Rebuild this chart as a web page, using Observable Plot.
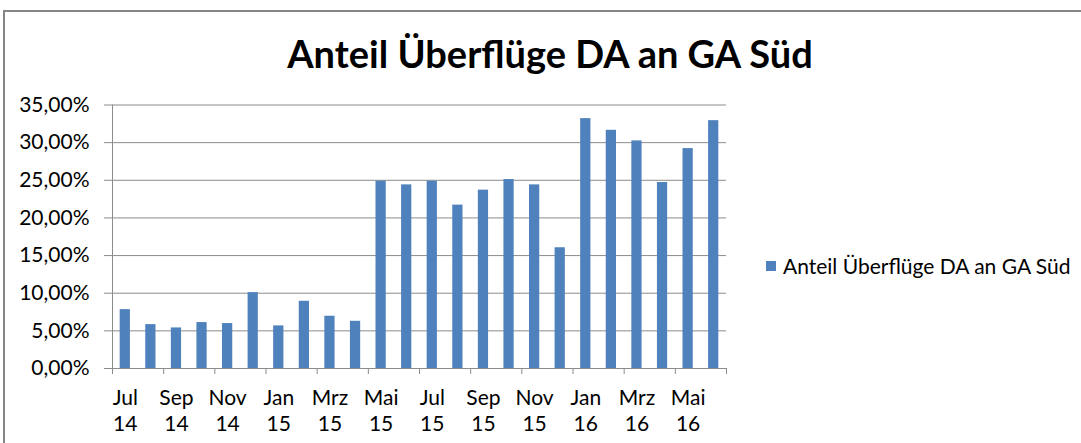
<!DOCTYPE html>
<html>
<head>
<meta charset="utf-8">
<script src="https://cdn.jsdelivr.net/npm/d3@7"></script>
<script src="https://cdn.jsdelivr.net/npm/@observablehq/plot@0.6"></script>
<style>
  body { margin: 0; background: #fff; font-family: Lato, "Open Sans", sans-serif; }
  #wrap { position: relative; width: 1081px; height: 443px; overflow: hidden; background: #fff; }
  #frame { position: absolute; left: 3px; top: 10px; width: 1200px; height: 500px; border-left: 2px solid #868686; border-top: 2px solid #868686; }
  #title { position: absolute; left: 0; width: 1100px; top: 28px; text-align: center; font-weight: bold; font-size: 38px; color: #000; line-height: 50px; }
  #chart { position: absolute; left: 0; top: 90px; }
  #legend { position: absolute; left: 766px; top: 253px; font-size: 21px; color: #000; display: flex; align-items: center; white-space: nowrap; }
  #legend .sw { width: 10px; height: 10px; background: #4F81BD; margin-right: 7px; }
</style>
</head>
<body>
<div id="wrap">
  <div id="frame"></div>
  <div id="title">Anteil Überflüge DA an GA Süd</div>
  <div id="chart"></div>
  <div id="legend"><div class="sw"></div><span>Anteil Überflüge DA an GA Süd</span></div>
</div>
<script>
const months = ["Jul 14","Aug 14","Sep 14","Okt 14","Nov 14","Dez 14","Jan 15","Feb 15","Mrz 15","Apr 15","Mai 15","Jun 15",
                "Jul 15","Aug 15","Sep 15","Okt 15","Nov 15","Dez 15","Jan 16","Feb 16","Mrz 16","Apr 16","Mai 16","Jun 16"];
const values = [7.82, 5.83, 5.39, 6.10, 5.97, 10.08, 5.66, 8.93, 6.94, 6.27, 24.88, 24.39,
                24.88, 21.70, 23.69, 25.10, 24.39, 16.04, 33.19, 31.64, 30.23, 24.70, 29.21, 32.92];
const yTicks = [0, 5, 10, 15, 20, 25, 30, 35];
const seriesName = "Anteil Überflüge DA an GA Süd";

const data = months.map((m, i) => ({i, month: m, value: values[i]}));
const labelData = data.filter(d => d.i % 2 === 0);
const boundaryTicks = d3.range(0, months.length + 1, 2);
const grid = "#8c8c8c";
const fontFamily = "Lato, 'Open Sans', sans-serif";

const chart = Plot.plot({
  width: 1081,
  height: 353,
  marginLeft: 112,
  marginRight: 355,
  marginTop: 14.5,
  marginBottom: 75,
  style: {fontFamily, fontSize: "21px", color: "#000", background: "transparent", overflow: "visible"},
  x: {type: "linear", domain: [0, months.length], axis: null},
  y: {domain: [0, 35], axis: null},
  marks: [
    Plot.gridY(yTicks, {stroke: grid, strokeOpacity: 1, strokeWidth: 1}),
    Plot.axisY(yTicks, {tickSize: 8, tickPadding: 15, stroke: grid, strokeOpacity: 1, label: null,
      tickFormat: d => d.toFixed(2).replace(".", ",") + "%", fill: "#000", fontSize: 21}),
    Plot.ruleX([0], {stroke: grid, strokeWidth: 1}),
    Plot.rectY(data, {x1: d => d.i + 0.3, x2: d => d.i + 0.7, y: "value", fill: "#4F81BD"}),
    Plot.axisX(boundaryTicks, {tickSize: 6, stroke: grid, strokeOpacity: 1, label: null, tickFormat: () => ""}),
    Plot.text(labelData, {x: d => d.i + 0.5, frameAnchor: "bottom", dy: 18, lineAnchor: "top",
      text: d => d.month.replace(" ", "\n"), lineHeight: 1.24, fill: "#000", fontSize: 21, textAnchor: "middle"})
  ]
});
document.getElementById("chart").appendChild(chart);
</script>
</body>
</html>
